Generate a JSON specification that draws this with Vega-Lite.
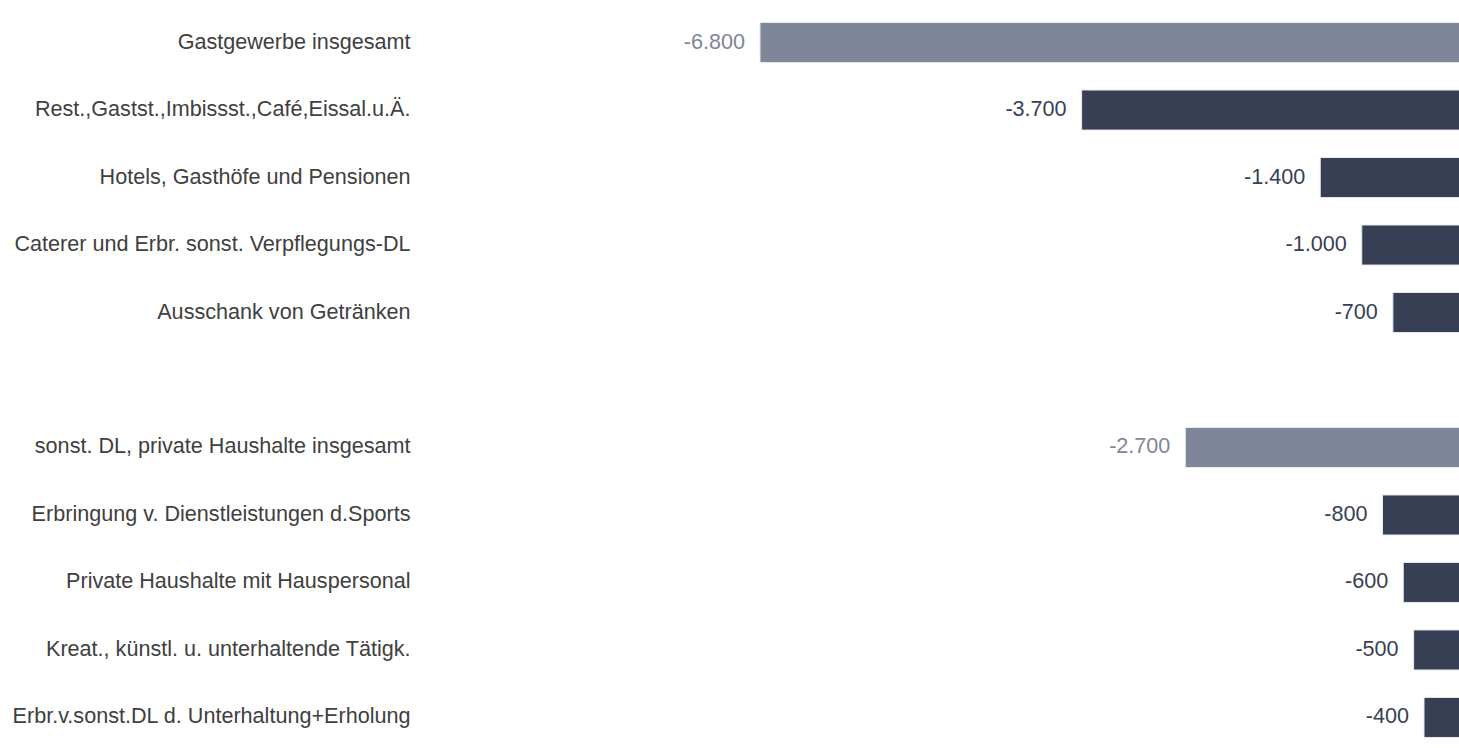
{
  "$schema": "https://vega.github.io/schema/vega-lite/v6.json",
  "autosize": {"type": "none"},
  "width": 705.5,
  "height": 760,
  "padding": {"left": 760, "top": 0, "right": 0, "bottom": 0},
  "background": "white",
  "config": {
    "view": {"stroke": null},
    "locale": {"number": {"decimal": ",", "thousands": ".", "grouping": [3], "currency": ["", " €"], "minus": "-"}},
    "text": {"font": "Liberation Sans"}
  },
  "data": {
    "values": [
      {"kategorie": "Gastgewerbe insgesamt", "wert": -6800, "typ": "gesamt"},
      {"kategorie": "Rest.,Gastst.,Imbissst.,Café,Eissal.u.Ä.", "wert": -3700, "typ": "teil"},
      {"kategorie": "Hotels, Gasthöfe und Pensionen", "wert": -1400, "typ": "teil"},
      {"kategorie": "Caterer und Erbr. sonst. Verpflegungs-DL", "wert": -1000, "typ": "teil"},
      {"kategorie": "Ausschank von Getränken", "wert": -700, "typ": "teil"},
      {"kategorie": "sonst. DL, private Haushalte insgesamt", "wert": -2700, "typ": "gesamt"},
      {"kategorie": "Erbringung v. Dienstleistungen d.Sports", "wert": -800, "typ": "teil"},
      {"kategorie": "Private Haushalte mit Hauspersonal", "wert": -600, "typ": "teil"},
      {"kategorie": "Kreat., künstl. u. unterhaltende Tätigk.", "wert": -500, "typ": "teil"},
      {"kategorie": "Erbr.v.sonst.DL d. Unterhaltung+Erholung", "wert": -400, "typ": "teil"}
    ]
  },
  "encoding": {
    "y": {
      "field": "kategorie",
      "type": "nominal",
      "scale": {
        "domain": [
          "Gastgewerbe insgesamt",
          "Rest.,Gastst.,Imbissst.,Café,Eissal.u.Ä.",
          "Hotels, Gasthöfe und Pensionen",
          "Caterer und Erbr. sonst. Verpflegungs-DL",
          "Ausschank von Getränken",
          " ",
          "sonst. DL, private Haushalte insgesamt",
          "Erbringung v. Dienstleistungen d.Sports",
          "Private Haushalte mit Hauspersonal",
          "Kreat., künstl. u. unterhaltende Tätigk.",
          "Erbr.v.sonst.DL d. Unterhaltung+Erholung"
        ],
        "paddingInner": 0.407,
        "paddingOuter": 0.334
      },
      "axis": {
        "title": null,
        "ticks": false,
        "domain": false,
        "grid": false,
        "labelPadding": 350,
        "labelFont": "Liberation Sans",
        "labelFontSize": 21.6,
        "labelColor": "#404040",
        "labelLimit": 500
      }
    },
    "x": {
      "field": "wert",
      "type": "quantitative",
      "scale": {"domain": [-6800, 0], "nice": false, "zero": true},
      "axis": null
    }
  },
  "layer": [
    {
      "mark": {"type": "bar", "stroke": "#e8e8ec", "strokeWidth": 1},
      "encoding": {
        "color": {
          "field": "typ",
          "type": "nominal",
          "scale": {"domain": ["gesamt", "teil"], "range": ["#7f8699", "#373f55"]},
          "legend": null
        }
      }
    },
    {
      "mark": {"type": "text", "align": "right", "baseline": "middle", "dx": -15, "fontSize": 21.6},
      "encoding": {
        "text": {"field": "wert", "type": "quantitative", "format": ",d"},
        "color": {
          "field": "typ",
          "type": "nominal",
          "scale": {"domain": ["gesamt", "teil"], "range": ["#7f8699", "#373f55"]},
          "legend": null
        }
      }
    }
  ]
}
